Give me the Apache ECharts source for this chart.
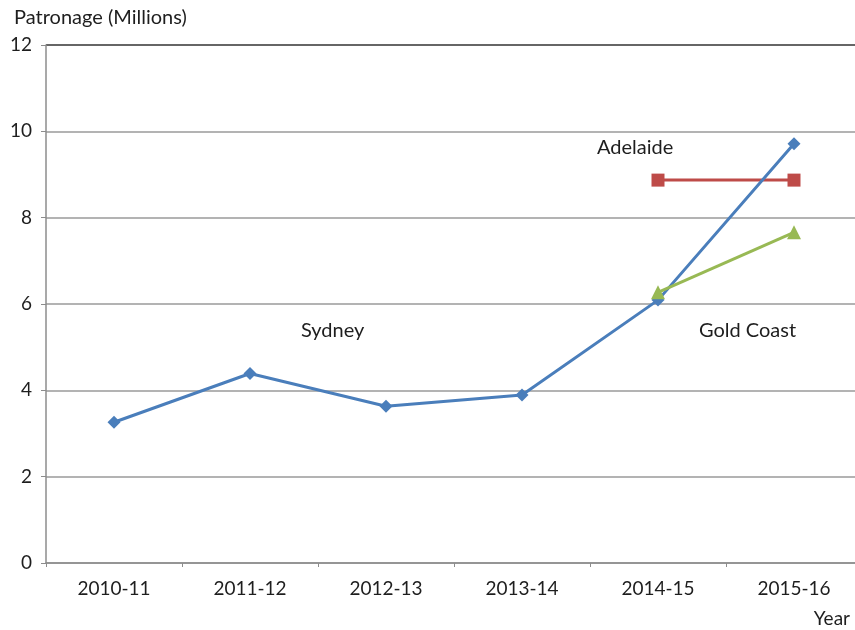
<!DOCTYPE html>
<html><head><meta charset="utf-8">
<script src="https://cdn.jsdelivr.net/npm/echarts@6/dist/echarts.min.js"></script>
<style>html,body{margin:0;padding:0;background:#fff;overflow:hidden}#c{width:855px;height:630px}</style>
</head><body><div id="c"></div>
<script>
const years = ['2010-11','2011-12','2012-13','2013-14','2014-15','2015-16'];
const sydney = [3.26, 4.39, 3.63, 3.89, 6.09, 9.71];
const adelaide = [null, null, null, null, 8.87, 8.87];
const goldCoast = [null, null, null, null, 6.27, 7.66];
const yTicks = [0, 2, 4, 6, 8, 10, 12];

const FONT = 'Lato';
const chart = echarts.init(document.getElementById('c'), null, {renderer:'canvas'});
chart.setOption({
  animation: false,
  backgroundColor: '#fff',
  textStyle: {fontFamily: FONT},
  grid: {left: 46, width: 816, top: 45, bottom: 67, containLabel: false, outerBoundsMode: 'none'},
  xAxis: {
    type: 'category', data: years, boundaryGap: true,
    axisLine: {lineStyle: {color: '#8c8c8c', width: 1.5}},
    axisTick: {show: true, alignWithLabel: false, length: 4, lineStyle: {color: '#8c8c8c'}},
    axisLabel: {color: '#1e1e1e', fontSize: 19, margin: 16, fontFamily: FONT},
    name: 'Year', nameLocation: 'end', nameGap: 0,
    nameTextStyle: {color: '#1e1e1e', fontSize: 19, fontFamily: FONT, align: 'right', verticalAlign: 'top', padding: [46, 12, 0, 0]}
  },
  yAxis: {
    type: 'value', min: 0, max: 12, interval: 2,
    axisLine: {show: true, lineStyle: {color: '#8c8c8c', width: 1.5}},
    axisTick: {show: true, length: 5, lineStyle: {color: '#8c8c8c'}},
    axisLabel: {color: '#1e1e1e', fontSize: 19, margin: 14, fontFamily: FONT,
      formatter: v => yTicks.includes(v) ? String(v) : ''},
    splitLine: {show: true, lineStyle: {color: ['#9a9a9a','#9a9a9a','#9a9a9a','#9a9a9a','#9a9a9a','#9a9a9a','#333'], width: 1.5}},
    name: 'Patronage (Millions)', nameLocation: 'end', nameGap: 17,
    nameTextStyle: {color: '#1e1e1e', fontSize: 20, fontFamily: FONT, align: 'left', padding: [0, 0, 0, -32]}
  },
  series: [
    {name: 'Sydney', type: 'line', data: sydney, symbol: 'diamond', symbolSize: 13,
      lineStyle: {color: '#4a7ebb', width: 3}, itemStyle: {color: '#4a7ebb'}, z: 3},
    {name: 'Adelaide', type: 'line', data: adelaide, symbol: 'rect', symbolSize: 13,
      lineStyle: {color: '#be4b48', width: 3}, itemStyle: {color: '#be4b48'}, z: 2},
    {name: 'Gold Coast', type: 'line', data: goldCoast, symbol: 'triangle', symbolSize: 14,
      lineStyle: {color: '#98b954', width: 3}, itemStyle: {color: '#98b954'}, z: 4}
  ],
  graphic: [
    {type: 'text', left: 301, top: 321, style: {text: 'Sydney', fontSize: 20, fontFamily: FONT, fill: '#1e1e1e'}},
    {type: 'text', left: 597, top: 138, style: {text: 'Adelaide', fontSize: 20, fontFamily: FONT, fill: '#1e1e1e'}},
    {type: 'text', left: 699, top: 321, style: {text: 'Gold Coast', fontSize: 20, fontFamily: FONT, fill: '#1e1e1e'}}
  ]
});
</script></body></html>
